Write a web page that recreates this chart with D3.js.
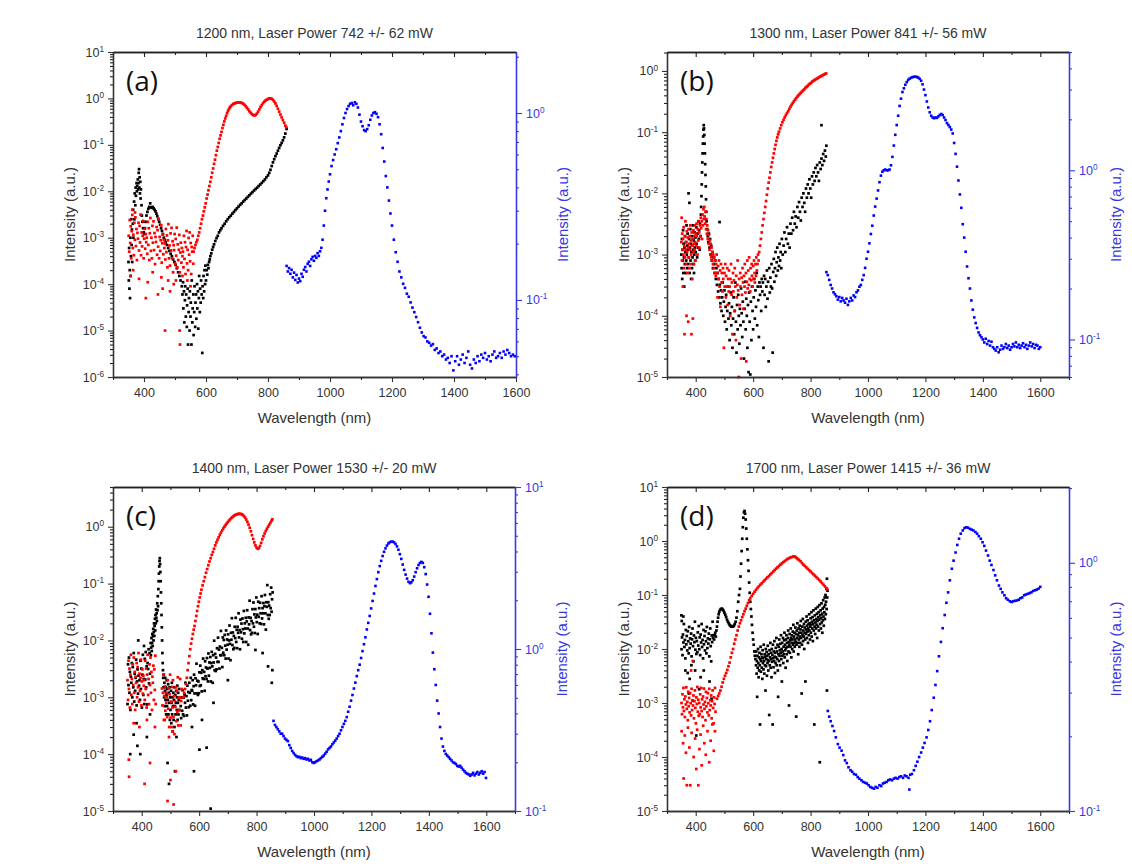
<!DOCTYPE html>
<html>
<head>
<meta charset="utf-8">
<title>Spectra</title>
<style>
  body { margin: 0; background: #fff; }
  svg { display: block; }
</style>
</head>
<body>
<svg width="1132" height="866"></svg>
<script src="https://cdnjs.cloudflare.com/ajax/libs/d3/7.8.5/d3.min.js"></script>
<script>
// ---- text / ticks ----
const titles = [
  "1200 nm, Laser Power 742 +/- 62 mW",
  "1300 nm, Laser Power 841 +/- 56 mW",
  "1400 nm, Laser Power 1530 +/- 20 mW",
  "1700 nm, Laser Power 1415 +/- 36 mW"
];
const letters = ["(a)", "(b)", "(c)", "(d)"];
const xTicks = [400, 600, 800, 1000, 1200, 1400, 1600];

// ---- panel (a) ----  [wavelength nm, intensity]
const aBlack = [
[350,3e-4],[351,1.2e-4],[352,6e-4],[353,8e-5],[354,2e-4],[355,5e-5],[356,1e-3],[357,1.5e-4],[358,4e-4],[359,2.5e-3],[360,7e-4],[361,1.5e-3],[362,3e-4],[364,2e-3],[365,4e-3],[366,1e-3],[368,6e-3],[369,2.5e-3],[370,9e-3],[372,5e-3],[373,1.2e-2],[374,8e-3],[376,1.5e-2],[377,1e-2],[378,1.3e-2],[380,1.8e-2],[381,1.1e-2],[382,1.5e-2],[383,2.5e-2],[384,3e-2],[385,1.2e-2],[386,2e-2],[387,9e-3],[388,1.6e-2],[389,7e-3],[390,1.1e-2],[392,5e-3],[393,3e-3],[395,2.2e-3],[397,1.6e-3],[399,1.3e-3],[401,1.2e-3],[403,1.6e-3],[405,2.2e-3],[408,3e-3],[411,3.6e-3],[414,4.2e-3],[417,4.6e-3],[420,5.5e-3],[422,4.5e-3],[425,4.4e-3],[428,4.6e-3],[431,4.3e-3],[434,4e-3],[437,3.7e-3],[440,3.3e-3],[443,2.9e-3],[446,2.5e-3],[449,2.2e-3],[452,1.9e-3],[455,1.6e-3],[458,1.4e-3],[461,1.2e-3],[464,1e-3],[467,9e-4],[470,8e-4],[474,7e-4],[478,6e-4],[482,5.2e-4],[486,4.5e-4],[490,4e-4],[494,3.4e-4],[498,3e-4],[502,2.6e-4],[506,2.2e-4],[510,1.8e-4],[514,1.5e-4],[518,1.2e-4],[522,9e-5],
[524,6e-5],[526,1.1e-4],[527,3e-5],[529,7e-5],[530,1.5e-5],[532,4.5e-5],[533,9e-5],[535,2e-5],[536,6e-5],[538,1.2e-5],[539,3.5e-5],[541,8e-5],[542,5e-6],[544,2.5e-5],[545,5e-5],[547,1e-5],[548,7e-5],[550,2e-5],[551,4e-5],[553,5e-6],[554,1.2e-4],[556,1.5e-5],[557,3e-5],[559,6e-5],[560,8e-6],[562,2.5e-5],[563,9e-5],[565,1.2e-5],[566,4e-5],[568,6e-5],[569,1.8e-5],[571,1e-4],[572,3e-5],[574,7e-5],[575,1.1e-5],[577,5e-5],[578,1.5e-4],[580,2.5e-5],[581,8e-5],[583,4e-5],[584,1.2e-4],[586,6e-5],[588,3.3e-6],[589,9e-5],[591,5e-5],[592,1.5e-4],[594,7e-5],[595,2e-4],[597,1e-4],[598,2.5e-4],
[600,1.2e-4],[602,2e-4],[604,1.6e-4],[606,2.6e-4],[608,2.2e-4],[610,3e-4],[612,3.4e-4],[614,4e-4],[617,4.6e-4],[620,5.5e-4],[623,6.3e-4],[626,7.2e-4],[630,8.5e-4],[634,9.8e-4],[638,1.1e-3],[642,1.3e-3],[646,1.45e-3],[650,1.6e-3],[655,1.8e-3],[660,2e-3],[665,2.25e-3],[670,2.5e-3],[675,2.75e-3],[680,3e-3],[685,3.3e-3],[690,3.6e-3],[695,3.95e-3],[700,4.3e-3],[705,4.7e-3],[710,5.1e-3],[715,5.5e-3],[720,6e-3],[725,6.5e-3],[730,7e-3],[735,7.6e-3],[740,8.2e-3],[745,8.9e-3],[750,9.6e-3],[755,1.04e-2],[760,1.12e-2],[765,1.2e-2],[770,1.3e-2],[775,1.4e-2],[780,1.52e-2],[785,1.65e-2],[790,1.8e-2],[795,2e-2],[800,2.2e-2],[804,2.5e-2],[808,2.9e-2],[812,3.5e-2],[816,4.2e-2],[820,4.9e-2],[824,5.7e-2],[828,6.5e-2],[832,7.5e-2],[836,8.6e-2],[840,9.8e-2],[844,1.1e-1],[848,1.25e-1],[852,1.45e-1],[856,1.75e-1],[860,2.2e-1]
];
const aRed = [
[350.6,1.1e-3],[352.3,5e-4],[353.9,2.4e-3],[355.6,7.7e-4],[357.2,1.76e-3],[358.8,3.6e-4],
[360.6,1.38e-3],[362.3,3.1e-3],[363.9,6e-4],[365.6,1.16e-3],[367.2,4.2e-4],[368.8,2.1e-3],
[370.6,9e-4],[372.3,2.75e-3],[373.9,6.6e-4],[375.6,1.54e-3],[377.2,3.3e-4],[378.8,1.27e-3],
[380.6,9.5e-4],[382.3,2.1e-3],[383.9,5.3e-4],[385.6,1.8e-3],[387.2,7.9e-4],[388.8,3.15e-3],
[390.6,4.2e-4],[392.3,1.3e-3],[393.9,6.5e-4],[395.6,1.1e-3],[397.2,2.3e-3],[398.8,3.6e-4],
[400.6,9.5e-4],[402.3,1.55e-3],[403.9,5.8e-4],[405.6,1.2e-3],[407.2,8e-4],[408.8,1e-3],
[410.6,4.5e-4],[412.3,2.2e-3],[413.9,7e-4],[415.6,1.6e-3],[417.2,3.3e-4],[418.8,1.25e-3],
[420.6,2.66e-3],[422.3,5.2e-4],[423.9,1e-3],[425.6,3.6e-4],[427.2,1.8e-3],[428.8,7.8e-4],
[430.6,2.25e-3],[432.3,5.4e-4],[433.9,1.26e-3],[435.6,2.7e-4],[437.2,1.04e-3],[438.8,8.1e-4],
[440.6,1.7e-3],[442.3,4.3e-4],[443.9,1.45e-3],[445.6,6.4e-4],[447.2,2.55e-3],[448.8,3.6e-4],
[450.6,1.04e-3],[452.3,5.2e-4],[453.9,8.8e-4],[455.6,1.84e-3],[457.2,2.9e-4],[458.8,7.6e-4],
[460.6,1.16e-3],[462.3,4.4e-4],[463.9,9e-4],[465.6,6e-4],[467.2,7.5e-4],[468.8,3.4e-4],
[470.6,1.54e-3],[472.3,4.9e-4],[473.9,1.12e-3],[475.6,2.3e-4],[477.2,8.8e-4],[478.8,1.96e-3],
[480.6,3.6e-4],[482.3,6.8e-4],[483.9,2.5e-4],[485.6,1.24e-3],[487.2,5.3e-4],[488.8,1.63e-3],
[490.6,3.6e-4],[492.3,8.4e-4],[493.9,1.8e-4],[495.6,6.9e-4],[497.2,5.4e-4],[498.8,1.2e-3],
[500.6,2.75e-4],[502.3,9.4e-4],[503.9,4.1e-4],[505.6,1.65e-3],[507.2,2.3e-4],[508.8,7.2e-4],
[510.6,3.3e-4],[512.3,5.5e-4],[513.9,1.15e-3],[515.6,1.8e-4],[517.2,4.8e-4],[518.8,7.8e-4],
[520.6,2.9e-4],[522.3,6e-4],[523.9,4e-4],[525.6,5e-4],[527.2,2.3e-4],[528.8,1.1e-3],
[530.6,3.5e-4],[532.3,8e-4],[533.9,1.65e-4],[535.6,6.3e-4],[537.2,1.4e-3],[538.8,2.8e-4],
[540.6,5.5e-4],[542.3,2e-4],[543.9,9.9e-4],[545.6,4.3e-4],[547.2,1.3e-3],[548.8,3.1e-4],
[550.6,7.7e-4],[552.3,1.65e-4],[553.9,6.3e-4],[555.6,5e-4],[557.2,1.1e-3],[558.8,2.75e-4],
[357,1.5e-4],[362,4e-3],[365,2e-4],[371,3.5e-3],[384,1.3e-4],[406,5e-5],[412,1.1e-4],[428,1.8e-4],[445,6e-5],[456,1.4e-4],[460,8e-5],[468,1e-5],[478,1.2e-4],[484,7e-5],[496,1e-4],[503,1.2e-4],[515,1e-5],[516,5e-6],[524,1.5e-4],[540,1.2e-4],[550,9e-5],
[560,5e-4],[563,6e-4],[566,7e-4],[569,8e-4],[572,9e-4],[575,1.1e-3],[578,1.3e-3],[581,1.6e-3],[584,2e-3],[587,2.5e-3],[590,3e-3],[593,3.7e-3],[596,4.5e-3],[599,5.5e-3],[602,7e-3],[605,8.5e-3],[608,1.05e-2],[611,1.3e-2],[614,1.6e-2],[617,2e-2],[620,2.5e-2],[623,3.1e-2],[626,3.9e-2],[629,4.8e-2],[632,6e-2],[635,7.5e-2],[638,9e-2],[641,1.1e-1],[644,1.35e-1],[647,1.6e-1],[650,1.9e-1],[653,2.3e-1],[656,2.7e-1],[659,3.2e-1],[662,3.7e-1],[665,4.2e-1],[668,4.8e-1],[671,5.4e-1],[674,5.9e-1],[677,6.4e-1],[680,6.8e-1],[684,7.2e-1],[688,7.6e-1],[692,7.8e-1],[696,8e-1],[700,8.1e-1],[704,8.2e-1],[708,8.2e-1],[712,8.1e-1],[716,8e-1],[720,7.7e-1],[724,7.3e-1],[728,6.8e-1],[732,6.3e-1],[736,5.8e-1],[740,5.3e-1],[744,4.9e-1],[748,4.6e-1],[752,4.4e-1],[756,4.3e-1],[760,4.4e-1],[764,4.7e-1],[768,5.2e-1],[772,5.8e-1],[776,6.5e-1],[780,7.2e-1],[784,7.9e-1],[788,8.5e-1],[792,9e-1],[796,9.4e-1],[800,9.7e-1],[804,1],[808,1],[812,9.8e-1],[816,9.3e-1],[820,8.6e-1],[824,7.8e-1],[828,6.9e-1],[832,6e-1],[836,5.2e-1],[840,4.5e-1],[844,3.9e-1],[848,3.4e-1],[852,3e-1],[856,2.6e-1],[859,2.4e-1]
];
const aBlue = [
[860,0.152],[864,0.142],[868,0.148],[872,0.138],[876,0.145],[880,0.132],[884,0.14],[888,0.128],[892,0.136],[896,0.124],[900,0.13],[904,0.126],[908,0.138],[912,0.133],[916,0.145],[920,0.15],[924,0.142],[928,0.156],[932,0.16],[936,0.152],[940,0.165],[944,0.17],[948,0.162],[952,0.172],[956,0.168],[960,0.178],[964,0.172],[968,0.182],[972,0.19],[976,0.21],[980,0.25],[984,0.3],[988,0.35],[992,0.39],[996,0.43],[1000,0.47],[1005,0.52],[1010,0.56],[1015,0.6],[1020,0.64],[1025,0.69],[1030,0.74],[1035,0.8],[1040,0.87],[1045,0.94],[1050,1.0],[1055,1.05],[1060,1.09],[1065,1.12],[1070,1.13],[1075,1.1],[1080,1.14],[1085,1.12],[1090,1.07],[1095,0.98],[1100,0.9],[1105,0.85],[1110,0.81],[1115,0.8],[1120,0.82],[1125,0.86],[1130,0.92],[1135,0.97],[1140,1.0],[1145,1.01],[1150,0.99],[1155,0.95],[1160,0.87],[1165,0.77],[1170,0.65],[1175,0.55],[1180,0.46],[1185,0.4],[1190,0.34],[1195,0.29],[1200,0.25],[1206,0.21],[1212,0.18],[1218,0.16],[1224,0.142],[1230,0.132],[1236,0.122],[1242,0.116],[1248,0.108],[1254,0.104],[1260,0.097],[1266,0.091],[1272,0.086],[1278,0.081],[1284,0.076],[1290,0.071],[1296,0.067],[1302,0.064],[1308,0.063],[1314,0.06],[1320,0.059],[1326,0.057],[1332,0.058],[1338,0.054],[1344,0.055],[1350,0.052],[1356,0.053],[1362,0.05],[1368,0.051],[1374,0.048],[1380,0.049],[1386,0.046],[1392,0.05],[1398,0.042],[1404,0.047],[1410,0.05],[1416,0.045],[1422,0.048],[1428,0.051],[1434,0.046],[1440,0.049],[1446,0.053],[1452,0.045],[1458,0.043],[1464,0.048],[1470,0.046],[1476,0.05],[1482,0.047],[1488,0.051],[1494,0.049],[1500,0.052],[1506,0.048],[1512,0.05],[1518,0.047],[1524,0.051],[1530,0.053],[1536,0.049],[1542,0.05],[1548,0.052],[1554,0.049],[1560,0.053],[1566,0.051],[1572,0.054],[1578,0.052],[1584,0.05],[1590,0.051],[1596,0.05]
];

// ---- panel (b) ----
const bBlack = [
[350,1e-3],[351,6e-4],[352,1.8e-3],[353,4e-4],[354,1.2e-3],[355,8e-4],[356,2.5e-3],[357,5e-4],[358,1.5e-3],[359,9e-4],[360,3e-4],[361,1.3e-3],[362,7e-4],[363,2e-3],[364,1.1e-3],[365,5e-4],[366,1.6e-3],[367,8e-4],[368,3e-3],[369,1e-3],[370,6e-4],[371,1.4e-3],[372,2.2e-3],[373,7e-4],[374,1.2e-3],[375,1e-2],[376,9e-4],[377,1.8e-3],[378,7e-3],[379,5e-4],[380,1.3e-3],[381,2.6e-3],[382,8e-4],[383,1.5e-3],[384,4e-4],[385,1.1e-3],[386,2e-3],[387,6e-4],[388,1.4e-3],[389,9e-4],[390,3e-3],[391,1.2e-3],[392,7e-4],[393,1.7e-3],[394,5e-4],[395,1e-3],[396,2.3e-3],[397,1.3e-3],[398,8e-4],[399,1.9e-3],[400,1.1e-3],[402,2.8e-3],[403,1.5e-3],[405,9e-4],[406,2.2e-3],[408,1.3e-3],[409,3.5e-3],[411,1.8e-3],[412,2.5e-3],[414,1.2e-3],[415,3.2e-3],[417,2e-3],[418,4.5e-3],[419,6e-3],[420,9e-3],[421,1.4e-2],[422,2.2e-2],[423,3.2e-2],[424,4.5e-2],[425,6.5e-2],[426,8.5e-2],[427,1.1e-1],[428,1.3e-1],[429,1.15e-1],[430,9e-2],[431,6.5e-2],[432,4.5e-2],[433,3e-2],[434,2e-2],[435,1.3e-2],[436,8e-3],[437,5e-3],[438,3.5e-3],[440,2.6e-3],[442,2e-3],[444,1.6e-3],[446,2.2e-3],[448,1.3e-3],[450,1.8e-3],[452,1e-3],[454,1.4e-3],[456,8e-4],[458,1.1e-3],[460,6e-4],[462,9e-4],[464,7e-4],[466,5e-4],[468,8e-4],[470,4e-4],[472,6e-4],[474,3.2e-4],[476,5e-4],[478,2.5e-4],[480,4e-4],[482,2e-4],[483,3.4e-3],[484,3.2e-4],[486,1.6e-4],[488,2.6e-4],[490,1.2e-4],[492,2e-4],[494,3.5e-4],[496,1e-4],[498,1.7e-4],[500,2.6e-4],[502,8e-5],[504,1.4e-4],[506,2.2e-4],[508,6e-5],[510,1.2e-4],[512,3e-4],[514,9e-5],[516,1.6e-4],[518,4e-5],[520,1.1e-4],[522,2.4e-4],[524,7e-5],[526,1.4e-4],[528,3e-5],[530,9e-5],[532,2e-4],[534,5e-5],[536,1.2e-4],[538,3.5e-4],[540,8e-5],[542,2.5e-5],[544,1.5e-4],[546,6e-5],[548,2.2e-4],[550,1e-4],[552,3.5e-5],[554,1.3e-4],[556,7e-5],[558,2.8e-4],[560,1.1e-4],[562,4.5e-5],[564,1.7e-4],[566,8e-5],[568,2e-5],[570,1.3e-4],[572,3.6e-4],[574,6e-5],[576,1.9e-4],[578,1e-4],[580,3e-5],[582,1.5e-4],[584,1.2e-5],[586,2.4e-4],[588,8e-5],[590,1.1e-5],[592,1.7e-4],[594,4e-5],[596,3e-4],[598,1.2e-4],[600,6e-5],[602,2e-4],[604,4e-4],[606,9e-5],[608,2.6e-4],[610,1.4e-4],[612,5e-4],[614,7e-5],[616,3e-4],[618,1.8e-4],[620,4.5e-5],[622,3.5e-4],[624,2.2e-4],[626,3e-4],[628,1.2e-4],[630,4e-4],[632,2.5e-4],[634,3.5e-4],[636,3e-5],[638,4.5e-4],
[640,2.2e-4],[642,4e-4],[644,1.4e-4],[646,3e-4],[648,5.5e-4],[650,1.9e-4],[652,3.6e-4],[654,1.8e-5],[656,6e-4],[658,2.4e-4],[660,4.2e-4],[662,3e-4],[664,7e-4],[666,2.8e-4],[668,2.5e-5],[670,5.2e-4],[672,8.5e-4],[674,3.6e-4],[676,6e-4],[678,1.1e-3],[680,4.5e-4],[682,7.5e-4],[684,1.3e-3],[686,5.5e-4],[688,9e-4],[690,6.5e-4],[692,1.5e-3],[694,8e-4],[696,1.1e-3],[698,6e-4],[700,1.8e-3],[703,1e-3],[706,1.4e-3],[709,2.3e-3],[712,1.1e-3],[715,1.8e-3],[718,2.8e-3],[721,1.5e-3],[724,2.2e-3],[727,1.3e-3],[730,3.2e-3],[733,2.2e-3],[736,4e-3],[739,2.5e-3],[742,5e-3],[745,3.2e-3],[748,4.2e-3],[751,2.8e-3],[754,6e-3],[757,4e-3],[760,7.2e-3],[763,5e-3],[766,3.6e-3],[769,8.5e-3],[772,6e-3],[775,1e-2],[778,7e-3],[781,5e-3],[784,1.2e-2],[787,8.5e-3],[790,1.4e-2],[793,1e-2],[796,1.7e-2],[799,1.2e-2],[802,8.5e-3],[805,1.9e-2],[808,1.4e-2],[811,2.2e-2],[814,1.6e-2],[817,2.6e-2],[820,1.9e-2],[823,2.9e-2],[826,2.2e-2],[829,1.6e-2],[832,3.2e-2],[835,2.5e-2],[838,3.7e-2],[838,1.3e-1],[841,2.9e-2],[844,4.4e-2],[847,3.4e-2],[850,5e-2],[853,4e-2],[855,6e-2]
];
const bRed = [
[350,1.6e-3],[351,4e-3],[352,8e-4],[353,2.2e-3],[354,1.2e-3],[355,3e-4],[356,1.8e-3],[357,1e-3],[358,2.8e-3],[359,6e-4],[360,1.4e-3],[361,5e-5],[362,2e-3],[363,9e-4],[364,3.5e-3],[365,1.2e-3],[366,7e-4],[367,1.6e-3],[368,1e-4],[369,2.4e-3],[370,1.1e-3],[371,5e-4],[372,1.9e-3],[373,1.3e-3],[374,8e-5],[375,2.6e-3],[376,9e-4],[377,1.5e-3],[378,6e-4],[379,2e-3],[380,1.2e-3],[381,3e-3],[382,7e-4],[383,1.7e-3],[384,1e-3],[385,5e-5],[386,2.3e-3],[387,1.4e-3],[388,4e-4],[389,1.8e-3],[390,9e-5],[391,1.1e-3],[392,2.5e-3],[393,1.5e-3],[394,7e-4],[395,2e-3],[396,1.2e-3],[397,3e-3],[398,1.6e-3],[399,8e-4],[400,2.2e-3],[402,1.4e-3],[403,3.2e-3],[404,2e-3],[406,1e-3],[407,2.6e-3],[409,1.7e-3],[410,3.5e-3],[412,2.3e-3],[413,1.3e-3],[415,3e-3],[416,2e-3],[418,4e-3],[419,2.7e-3],[421,3.5e-3],[422,1.8e-3],[424,4.5e-3],[425,3e-3],[427,5.5e-3],[428,3.8e-3],[430,6e-3],[431,4.2e-3],[433,3.2e-3],[434,5e-3],[436,2.6e-3],[437,3.8e-3],[439,2.2e-3],[440,3e-3],[442,1.8e-3],[443,2.5e-3],[445,1.5e-3],[446,2.1e-3],[448,1.2e-3],[449,1.7e-3],[451,1e-3],[452,1.5e-3],[454,9e-4],[455,1.3e-3],[457,8e-4],[458,1.1e-3],[460,7e-4],[461,1e-3],[463,6e-4],[465,9e-4],[466,5e-4],[468,8e-4],[470,4.5e-4],[471,7e-4],[473,1e-3],[475,5e-4],[476,2e-4],[478,6.5e-4],[480,4e-4],[481,8e-4],[483,3e-4],[485,5.5e-4],[486,1.4e-4],[488,7e-4],[490,3.5e-4],[491,5e-4],[493,2.5e-4],[495,6e-4],[496,4e-4],[498,3e-5],[500,5e-4],[501,3e-4],[503,7e-4],[505,2e-4],[506,4.5e-4],[508,3e-4],[510,6e-4],[511,1.5e-4],[513,4e-4],[515,2.5e-4],[516,5.5e-4],[518,3e-4],[520,1e-4],[521,4e-4],[523,7e-4],[525,2.2e-4],[526,3.5e-4],[528,5e-5],[530,5e-4],[531,2.5e-4],[533,3.8e-4],[535,1.2e-4],[536,6e-4],[538,3e-4],[540,4e-5],[541,4.5e-4],[543,2e-4],[545,3.2e-4],[546,8e-4],[548,2.6e-4],[550,1e-5],[551,4e-4],[553,1.5e-4],[555,5e-4],[556,3e-4],[558,2e-5],[560,4.2e-4],[561,2.2e-4],[563,6e-4],[565,3.5e-4],[566,1.3e-4],[568,4.5e-4],[570,3e-4],[571,7e-4],[573,2.4e-4],[575,5e-4],[576,1.8e-5],[578,3.6e-4],[580,8e-4],[581,2.8e-4],[583,5.5e-4],[585,3.2e-4],[586,9e-4],[588,4e-4],[590,2.5e-4],[591,6e-4],[593,3.8e-4],[595,7e-4],[596,4.5e-4],[598,3e-4],[600,6.5e-4],[601,4e-4],[603,8e-4],[605,5e-4],[606,3.5e-4],[608,7e-4],[610,4.5e-4],[611,9e-4],[613,5.5e-4],[615,7e-4],[617,1e-3],[619,8e-4],
[621,1.1e-3],[624,1.4e-3],[627,1.8e-3],[630,2.3e-3],[633,3e-3],[636,3.8e-3],[639,4.8e-3],[642,6e-3],[645,7.5e-3],[648,9.5e-3],[651,1.2e-2],[654,1.5e-2],[657,1.8e-2],[660,2.2e-2],[663,2.7e-2],[666,3.2e-2],[669,3.8e-2],[672,4.5e-2],[675,5.3e-2],[678,6.2e-2],[681,7.2e-2],[684,8.2e-2],[687,9.2e-2],[690,1.02e-1],[694,1.15e-1],[698,1.3e-1],[702,1.45e-1],[706,1.6e-1],[710,1.75e-1],[714,1.9e-1],[718,2.05e-1],[722,2.2e-1],[726,2.4e-1],[730,2.6e-1],[734,2.8e-1],[738,3e-1],[742,3.2e-1],[746,3.4e-1],[750,3.6e-1],[754,3.8e-1],[758,4e-1],[762,4.2e-1],[766,4.4e-1],[770,4.6e-1],[774,4.8e-1],[778,5e-1],[782,5.3e-1],[786,5.5e-1],[790,5.7e-1],[794,6e-1],[798,6.2e-1],[802,6.4e-1],[806,6.7e-1],[810,6.9e-1],[814,7.1e-1],[818,7.3e-1],[822,7.5e-1],[826,7.7e-1],[830,7.9e-1],[834,8.1e-1],[838,8.3e-1],[842,8.5e-1],[846,8.7e-1],[850,8.9e-1],[854,9.1e-1]
];
const bBlue = [
[855,0.25],[860,0.24],[865,0.225],[870,0.21],[875,0.2],[880,0.19],[885,0.185],[890,0.18],[895,0.172],[900,0.178],[905,0.168],[910,0.176],[915,0.17],[920,0.165],[925,0.174],[930,0.16],[935,0.168],[940,0.176],[945,0.17],[950,0.182],[955,0.178],[960,0.19],[965,0.195],[970,0.205],[975,0.21],[980,0.225],[985,0.24],[990,0.265],[995,0.3],[1000,0.33],[1005,0.37],[1010,0.42],[1015,0.47],[1020,0.54],[1025,0.61],[1030,0.68],[1035,0.76],[1040,0.85],[1045,0.93],[1050,0.98],[1055,1.0],[1060,1.01],[1065,1.0],[1070,1.0],[1075,1.01],[1080,1.07],[1085,1.2],[1090,1.4],[1095,1.62],[1100,1.85],[1105,2.1],[1110,2.4],[1115,2.65],[1120,2.9],[1125,3.05],[1130,3.2],[1135,3.32],[1140,3.42],[1145,3.48],[1150,3.52],[1155,3.55],[1160,3.57],[1165,3.57],[1170,3.56],[1175,3.53],[1180,3.47],[1185,3.38],[1190,3.22],[1195,3.0],[1200,2.78],[1205,2.55],[1210,2.35],[1215,2.2],[1220,2.1],[1225,2.05],[1230,2.03],[1235,2.05],[1240,2.04],[1245,2.08],[1250,2.12],[1255,2.15],[1260,2.12],[1265,2.05],[1270,1.98],[1275,1.9],[1280,1.85],[1285,1.8],[1290,1.74],[1295,1.65],[1300,1.45],[1305,1.25],[1310,1.05],[1315,0.87],[1320,0.72],[1325,0.6],[1330,0.48],[1335,0.4],[1340,0.33],[1345,0.27],[1350,0.23],[1355,0.2],[1360,0.17],[1365,0.15],[1370,0.135],[1375,0.125],[1380,0.117],[1385,0.11],[1390,0.106],[1395,0.103],[1400,0.1],[1405,0.096],[1410,0.101],[1415,0.094],[1420,0.098],[1425,0.092],[1430,0.097],[1435,0.09],[1440,0.088],[1445,0.086],[1450,0.09],[1455,0.084],[1460,0.087],[1465,0.092],[1470,0.088],[1475,0.09],[1480,0.094],[1485,0.089],[1490,0.092],[1495,0.087],[1500,0.09],[1505,0.094],[1510,0.091],[1515,0.096],[1520,0.09],[1525,0.093],[1530,0.089],[1535,0.092],[1540,0.095],[1545,0.09],[1550,0.093],[1555,0.088],[1560,0.092],[1565,0.096],[1570,0.091],[1575,0.094],[1580,0.089],[1585,0.093],[1590,0.092],[1595,0.088],[1600,0.09]
];

// ---- panel (c) ----
const cBlack = [
[350.6,7.6e-4],[352.3,3.8e-3],[353.9,1.64e-3],[355.6,5e-3],[357.2,1.2e-3],[358.8,2.8e-3],
[360.6,6e-4],[362.3,2.3e-3],[363.9,1.8e-3],[365.6,4e-3],[367.2,1e-3],[368.8,3.4e-3],
[370.6,1.5e-3],[372.3,6e-3],[373.9,8.4e-4],[375.6,2.6e-3],[377.2,1.3e-3],[378.8,2.2e-3],
[380.6,4.6e-3],[382.3,7.2e-4],[383.9,1.9e-3],[385.6,3.1e-3],[387.2,1.16e-3],[388.8,2.4e-3],
[390.6,1.6e-3],[392.3,2e-3],[393.9,9e-4],[395.6,4.4e-3],[397.2,1.4e-3],[398.8,3.2e-3],
[400.6,6.6e-4],[402.3,2.5e-3],[403.9,5.6e-3],[405.6,1.1e-3],[407.2,2.1e-3],[408.8,7.6e-4],
[410.6,4.75e-3],[412.3,2.05e-3],[413.9,6.25e-3],[415.6,1.5e-3],[417.2,3.5e-3],[418.8,7.5e-4],
[420.6,4e-3],[422.3,3.15e-3],[423.9,7e-3],[425.6,1.75e-3],[427.2,6e-3],[428.8,2.6e-3],
[360,1e-4],[372,2.2e-4],[382,3.5e-4],[385,1.4e-4],[388,1e-2],[395,1e-4],[408,8e-3],[418,2e-4],[429,5e-4],
[431,9e-3],[432,5.5e-3],[433,7.5e-3],[434,1.1e-2],[435,6.5e-3],[436,9e-3],[437,1.3e-2],[438,8e-3],[439,1.2e-2],[440,1.6e-2],[441,1e-2],[442,1.4e-2],[443,2e-2],[444,1.2e-2],[445,1.8e-2],[446,2.4e-2],[447,1.5e-2],[448,2.8e-2],[449,2e-2],[450,3.5e-2],[451,2.5e-2],[452,3e-2],[453,2.2e-2],[454,4.5e-2],[455,3.4e-2],[456,6e-2],[457,4e-2],[458,8e-2],[459,1.1e-1],[460,1.5e-1],[461,2e-1],[462,2.5e-1],[463,2.8e-1],[464,2.2e-1],[465,1.6e-1],[466,1.1e-1],[467,7e-2],[468,4.5e-2],[469,2.8e-2],[470,1.7e-2],[471,1e-2],[472,6e-3],[473,4e-3],[474,3e-3],[475,2.2e-3],[476,1.5e-3],[477,2.5e-3],[478,1e-3],[479,1.8e-3],[480,7e-4],[481,1.3e-3],[482,2.2e-3],[483,9e-4],[484,1.5e-3],[485,5e-4],[486,1.1e-3],[487,2e-3],[488,7e-4],[489,1.4e-3],[490,7e-5],[491,9e-4],[492,1.7e-3],[493,5e-4],[494,1.2e-3],[495,3e-5],[496,8e-4],[497,1.5e-3],[498,4e-4],[499,1e-3],[500,6e-4],[502,1.3e-3],[503,3.5e-4],[504,8e-4],[505,1.8e-3],[506,5e-4],[507,1e-3],[508,2.5e-4],[509,7e-4],[510,1.2e-3],[511,4e-4],[512,9e-4],[513,1.5e-3],[514,3e-4],[515,7e-4],[516,5e-5],[517,1.1e-3],[518,5e-4],[519,8e-4],[520,1.3e-3],[521,2e-4],[522,6e-4],[523,1e-3],[524,1.6e-3],[525,4e-4],[526,8e-4],[527,1.2e-3],[528,5e-4],[529,9e-4],[530,1.4e-3],[531,6e-4],[532,1e-3],
[535.8,7e-4],[537.4,4.3e-4],[539.1,1e-3],[540.8,5.8e-4],[542.3,1.33e-3],[543.9,5e-4],
[545.8,9.9e-4],[547.4,4.7e-4],[549.1,1.12e-3],[550.8,8e-4],[552.3,1.8e-3],[553.9,6.6e-4],
[555.8,1.05e-3],[557.4,4.8e-4],[559.1,1.6e-3],[560.8,8.7e-4],[562.3,1.24e-3],[563.9,6.7e-4],
[565.8,1.8e-3],[567.4,1.2e-3],[569.1,7.1e-4],[570.8,2.2e-3],[572.3,8.9e-4],[573.9,1.34e-3],
[575.8,1.3e-3],[577.4,2e-3],[579.1,7.5e-4],[580.8,1.57e-3],[582.3,2.5e-3],[583.9,1.17e-3],
[585.8,7.1e-4],[587.4,2.16e-3],[589.1,1.63e-3],[590.8,3.9e-3],[592.3,1.17e-3],[593.9,1.96e-3],
[595.8,1.1e-3],[597.4,1.9e-3],[599.1,1.18e-3],[600.8,2.75e-3],[602.3,1.58e-3],[603.9,3.6e-3],
[605.8,1.63e-3],[607.4,2.7e-3],[609.1,1.27e-3],[610.8,3e-3],[612.3,2.16e-3],[613.9,4.8e-3],
[615.8,2.1e-3],[617.4,2.8e-3],[619.1,1.3e-3],[620.8,4.3e-3],[622.3,2.35e-3],[623.9,3.35e-3],
[625.8,2.1e-3],[627.4,4.9e-3],[629.1,3.2e-3],[630.8,1.9e-3],[632.3,5.9e-3],[633.9,2.4e-3],
[635.8,4.1e-3],[637.4,3.3e-3],[639.1,5.1e-3],[640.8,1.9e-3],[642.3,4e-3],[643.9,6.3e-3],
[645.8,3.5e-3],[647.4,1.8e-3],[649.1,5.5e-3],[650.8,4.1e-3],[652.3,9.9e-3],[653.9,3e-3],
[655.8,5.8e-3],[657.4,2.9e-3],[659.1,5e-3],[660.8,3.1e-3],[662.3,7.3e-3],[663.9,4.2e-3],
[665.8,1.12e-2],[667.4,4.2e-3],[669.1,6.9e-3],[670.8,3.2e-3],[672.3,7.8e-3],[673.9,5.5e-3],
[675.8,1.47e-2],[677.4,5.5e-3],[679.1,7.4e-3],[680.8,3.4e-3],[682.3,1.13e-2],[683.9,6.1e-3],
[685.8,1.02e-2],[687.4,5.5e-3],[689.1,1.25e-2],[690.8,8.1e-3],[692.3,4.8e-3],[693.9,1.5e-2],
[695.8,6.9e-3],[697.4,1.04e-2],[699.1,8.4e-3],[700.8,1.28e-2],[702.3,4.8e-3],[703.9,1e-2],
[705.8,1.83e-2],[707.4,8.7e-3],[709.1,4.5e-3],[710.8,1.36e-2],[712.3,1.03e-2],[713.9,2.46e-2],
[715.8,8.3e-3],[717.4,1.38e-2],[719.1,7e-3],[720.8,1.2e-2],[722.3,7.4e-3],[723.9,1.74e-2],
[725.8,1.1e-2],[727.4,2.5e-2],[729.1,9.4e-3],[730.8,1.54e-2],[732.3,7.3e-3],[733.9,1.74e-2],
[735.8,1.36e-2],[737.4,3e-2],[739.1,1.13e-2],[740.8,1.52e-2],[742.3,7e-3],[743.9,2.33e-2],
[745.8,1.39e-2],[747.4,1.98e-2],[749.1,1.07e-2],[750.8,2.43e-2],[752.3,1.58e-2],[753.9,9.4e-3],
[755.8,3.3e-2],[757.4,1.33e-2],[759.1,2e-2],[760.8,1.62e-2],[762.3,2.5e-2],[763.9,9.4e-3],
[765.8,2.16e-2],[767.4,3.4e-2],[769.1,1.62e-2],[770.8,8.4e-3],[772.3,2.54e-2],[773.9,1.92e-2],
[775.8,5e-2],[777.4,1.52e-2],[779.1,2.5e-2],[780.8,1.28e-2],[782.3,2.2e-2],[783.9,1.36e-2],
[785.8,3.55e-2],[787.4,2e-2],[789.1,4.65e-2],[790.8,1.74e-2],[792.3,2.87e-2],[793.9,1.35e-2],
[795.8,3.56e-2],[797.4,2.54e-2],[799.1,5.7e-2],[800.8,2.1e-2],[802.3,2.84e-2],[803.9,1.3e-2],
[805.8,4.8e-2],[807.4,2.6e-2],[809.1,3.7e-2],[810.8,2e-2],[812.3,4.6e-2],[813.9,3e-2],
[815.8,1.95e-2],[817.4,6e-2],[819.1,2.44e-2],[820.8,3.7e-2],[822.3,3e-2],[823.9,4.55e-2],
[825.8,1.92e-2],[827.4,4e-2],[829.1,6.3e-2],[830.8,3e-2],[832.3,1.55e-2],[833.9,4.7e-2],
[835.8,3.9e-2],[837.4,9.4e-2],[839.1,2.8e-2],[840.8,4.7e-2],[842.3,2.4e-2],[843.9,4.1e-2],
[845.8,2.8e-2],[847.4,6.5e-2],[849.1,3.7e-2],[850.8,8.5e-2],[852.3,3.2e-2],[853.9,5.3e-2],
[575,3e-4],[582,5e-5],[601,1.2e-4],[610,4e-4],[626,1.3e-4],[640,1.1e-5],[650,8e-4],[700,2e-3],[796,6.8e-3],[821,6e-3],[840,3.5e-3],[853,1.8e-3],[855,3e-3],[856,7e-2]
];
const cRed = [
[350.6,2e-3],[352.3,9e-4],[353.9,4.4e-3],[355.6,1.4e-3],[357.2,3.2e-3],[358.8,6.6e-4],
[360.6,2.5e-3],[362.3,5.6e-3],[363.9,1.1e-3],[365.6,2.1e-3],[367.2,7.6e-4],[368.8,3.8e-3],
[370.6,1.64e-3],[372.3,5e-3],[373.9,1.2e-3],[375.6,2.8e-3],[377.2,6e-4],[378.8,2.3e-3],
[380.6,1.8e-3],[382.3,4e-3],[383.9,1e-3],[385.6,3.4e-3],[387.2,1.5e-3],[388.8,6e-3],
[390.6,8.4e-4],[392.3,2.6e-3],[393.9,1.3e-3],[395.6,2.2e-3],[397.2,4.6e-3],[398.8,7.2e-4],
[400.6,1.9e-3],[402.3,3.1e-3],[403.9,1.16e-3],[405.6,2.4e-3],[407.2,1.6e-3],[408.8,2e-3],
[410.6,9e-4],[412.3,4.4e-3],[413.9,1.4e-3],[415.6,3.2e-3],[417.2,6.6e-4],[418.8,2.5e-3],
[420.6,5.6e-3],[422.3,1.1e-3],[423.9,2.1e-3],[425.6,7.6e-4],[427.2,3.8e-3],[428.8,1.64e-3],
[430.6,5e-3],[432.3,1.2e-3],[433.9,2.8e-3],[435.6,6e-4],[437.2,2.3e-3],[438.8,1.8e-3],
[440.6,3.6e-3],[442.3,9e-4],[443.9,3.1e-3],[445.6,1.35e-3],[447.2,5.4e-3],[448.8,7.6e-4],
[470.6,1.43e-3],[472.3,7.2e-4],[473.9,1.2e-3],[475.6,2.5e-3],[477.2,4e-4],[478.8,1.05e-3],
[480.6,1.55e-3],[482.3,5.8e-4],[483.9,1.2e-3],[485.6,8e-4],[487.2,1e-3],[488.8,4.5e-4],
[490.6,2e-3],[492.3,6.3e-4],[493.9,1.44e-3],[495.6,3e-4],[497.2,1.13e-3],[498.8,2.5e-3],
[500.6,4.4e-4],[502.3,8.4e-4],[503.9,3e-4],[505.6,1.52e-3],[507.2,6.6e-4],[508.8,2e-3],
[510.6,4.5e-4],[512.3,1.05e-3],[513.9,2.25e-4],[515.6,8.6e-4],[517.2,6.8e-4],[518.8,1.5e-3],
[520.6,3.8e-4],[522.3,1.28e-3],[523.9,5.6e-4],[525.6,2.25e-3],[527.2,3.2e-4],[528.8,9.8e-4],
[530.6,5.9e-4],[532.3,1e-3],[533.9,2.1e-3],[535.6,3.2e-4],[537.2,8.6e-4],[538.8,1.4e-3],
[355,8e-5],[356,4e-5],[372,3.5e-4],[392,3e-4],[410,3e-5],[418,4e-4],[429,7e-5],[446,3e-4],[480,4e-4],[490,1.5e-5],[495,2e-4],[500,3.5e-5],[508,2.5e-4],[511,1.3e-5],[519,5e-5],
[545,1e-3],[548,1.2e-3],[551,1.4e-3],[554,1.7e-3],[557,2.2e-3],[560,3e-3],[563,4e-3],[566,5.3e-3],[569,7e-3],[572,8.8e-3],[575,1.07e-2],[578,1.3e-2],[581,1.55e-2],[584,1.8e-2],[587,2.2e-2],[590,2.7e-2],[593,3.3e-2],[596,4e-2],[599,4.8e-2],[602,5.7e-2],[605,6.7e-2],[608,7.8e-2],[612,9.3e-2],[616,1.1e-1],[620,1.3e-1],[624,1.55e-1],[628,1.8e-1],[632,2.1e-1],[636,2.45e-1],[640,2.8e-1],[644,3.2e-1],[648,3.6e-1],[652,4.1e-1],[656,4.7e-1],[660,5.3e-1],[664,5.9e-1],[668,6.5e-1],[672,7.2e-1],[676,7.9e-1],[680,8.6e-1],[684,9.3e-1],[688,1.0],[692,1.07],[696,1.14],[700,1.21],[704,1.28],[708,1.35],[712,1.42],[716,1.48],[720,1.54],[724,1.59],[728,1.63],[732,1.66],[736,1.68],[740,1.69],[744,1.68],[748,1.66],[752,1.61],[756,1.54],[760,1.45],[764,1.34],[768,1.22],[772,1.09],[776,0.96],[780,0.83],[784,0.71],[788,0.61],[792,0.53],[796,0.47],[800,0.43],[804,0.41],[808,0.42],[812,0.46],[816,0.52],[820,0.6],[824,0.68],[828,0.76],[832,0.84],[836,0.92],[840,1.0],[844,1.08],[848,1.17],[852,1.27],[855,1.35]
];
const cBlue = [
[859,0.36],[864,0.34],[869,0.33],[874,0.32],[879,0.31],[884,0.3],[889,0.3],[894,0.29],[899,0.28],[904,0.275],[909,0.27],[914,0.255],[919,0.245],[924,0.235],[929,0.228],[934,0.222],[939,0.218],[944,0.215],[949,0.216],[954,0.212],[959,0.214],[964,0.21],[969,0.212],[974,0.208],[979,0.21],[984,0.205],[989,0.207],[994,0.2],[999,0.198],[1004,0.2],[1009,0.203],[1014,0.205],[1019,0.208],[1024,0.212],[1029,0.216],[1034,0.22],[1039,0.226],[1044,0.232],[1049,0.24],[1054,0.245],[1059,0.25],[1064,0.258],[1069,0.265],[1074,0.272],[1079,0.28],[1084,0.29],[1089,0.3],[1094,0.315],[1099,0.33],[1104,0.345],[1109,0.36],[1114,0.38],[1119,0.41],[1124,0.44],[1129,0.48],[1134,0.52],[1139,0.57],[1144,0.62],[1149,0.68],[1154,0.74],[1159,0.8],[1164,0.88],[1169,0.97],[1174,1.07],[1179,1.18],[1184,1.32],[1189,1.45],[1194,1.6],[1199,1.78],[1204,1.98],[1209,2.2],[1214,2.45],[1219,2.7],[1224,2.98],[1229,3.25],[1234,3.5],[1239,3.75],[1244,3.98],[1249,4.18],[1254,4.35],[1259,4.48],[1264,4.56],[1269,4.6],[1274,4.6],[1279,4.55],[1284,4.45],[1289,4.3],[1294,4.1],[1299,3.85],[1304,3.6],[1309,3.32],[1314,3.08],[1319,2.88],[1324,2.72],[1329,2.6],[1334,2.55],[1339,2.58],[1344,2.66],[1349,2.8],[1354,2.98],[1359,3.15],[1364,3.3],[1369,3.4],[1374,3.45],[1379,3.4],[1384,3.2],[1389,2.9],[1394,2.5],[1399,2.1],[1404,1.65],[1409,1.25],[1414,0.95],[1419,0.75],[1424,0.6],[1429,0.48],[1434,0.4],[1439,0.33],[1444,0.28],[1449,0.25],[1454,0.235],[1459,0.225],[1464,0.22],[1469,0.215],[1474,0.21],[1479,0.205],[1484,0.2],[1489,0.198],[1494,0.195],[1499,0.19],[1504,0.188],[1509,0.19],[1514,0.185],[1519,0.18],[1524,0.176],[1529,0.172],[1534,0.17],[1539,0.168],[1544,0.165],[1549,0.168],[1554,0.172],[1559,0.166],[1564,0.17],[1569,0.174],[1574,0.168],[1579,0.172],[1584,0.176],[1589,0.17],[1594,0.174],[1599,0.16]
];

// ---- panel (d) ----
const dBlack = [
[350.6,9.9e-3],[352.3,1.64e-2],[353.9,7.7e-3],[355.6,1.85e-2],[357.2,1.32e-2],[358.8,2.9e-2],
[360.6,1.09e-2],[362.3,1.47e-2],[363.9,6.7e-3],[365.6,2.25e-2],[367.2,1.22e-2],[368.8,1.74e-2],
[370.6,9.4e-3],[372.3,2.13e-2],[373.9,1.39e-2],[375.6,8.3e-3],[377.2,2.56e-2],[378.8,1.04e-2],
[380.6,1.57e-2],[382.3,1.26e-2],[383.9,1.93e-2],[385.6,7.3e-3],[387.2,1.51e-2],[388.8,2.4e-2],
[390.6,1.13e-2],[392.3,5.9e-3],[393.9,1.78e-2],[395.6,1.34e-2],[397.2,3.2e-2],[398.8,9.7e-3],
[400.6,1.61e-2],[402.3,8.1e-3],[403.9,1.4e-2],[405.6,8.7e-3],[407.2,2.03e-2],[408.8,1.16e-2],
[410.6,2.66e-2],[412.3,9.9e-3],[413.9,1.64e-2],[415.6,7.7e-3],[417.2,1.85e-2],[418.8,1.32e-2],
[420.6,2.9e-2],[422.3,1.09e-2],[423.9,1.47e-2],[425.6,6.7e-3],[427.2,2.25e-2],[428.8,1.22e-2],
[430.6,1.74e-2],[432.3,9.4e-3],[433.9,2.13e-2],[435.6,1.39e-2],[437.2,8.3e-3],[438.8,2.56e-2],
[440.6,1.04e-2],[442.3,1.57e-2],[443.9,1.26e-2],[445.6,1.93e-2],[447.2,7.3e-3],[448.8,1.51e-2],
[450.6,2.4e-2],[452.3,1.13e-2],[453.9,5.9e-3],[455.6,1.78e-2],[457.2,1.34e-2],[458.8,3.2e-2],
[350.2,4.2e-2],[351.4,3.3e-2],[357,4e-2],[364,4e-3],[372,3.6e-3],[376,1.5e-3],[379,2.8e-3],[385,5e-3],[390,1.1e-3],[398,4e-3],[402,2.5e-4],[412,1.8e-3],[417,3e-3],[428,4e-3],[448,2.5e-3],[455,1.2e-3],
[460,1.6e-2],[462,1.8e-2],[464,1.5e-2],[466,1.8e-2],[468,2e-2],[470,1.7e-2],[472,2.2e-2],[474,2.6e-2],[476,3.2e-2],[478,3.8e-2],[480,4.4e-2],[482,4.9e-2],[485,5.3e-2],[488,5.5e-2],[491,5.6e-2],[494,5.4e-2],[497,5.1e-2],[500,4.7e-2],[503,4.3e-2],[506,3.9e-2],[509,3.5e-2],[512,3.2e-2],[515,3e-2],[518,2.8e-2],[521,2.7e-2],[524,2.6e-2],[527,2.6e-2],[530,2.6e-2],[533,2.7e-2],[536,2.9e-2],[539,3.2e-2],[542,3.8e-2],[545,5e-2],[548,7.5e-2],[551,1e-1],[554,1.3e-1],[556,2.2e-1],[558,3.8e-1],[560,6.5e-1],[562,1.1],[564,1.8],[566,2.7],[568,3.4],[570,3.6],[572,3.2],[574,2.5],[576,1.7],[578,1.1],[580,7e-1],[582,4.4e-1],[584,2.8e-1],[586,1.7e-1],[588,1.1e-1],[590,7.5e-2],[592,5.5e-2],[594,4e-2],[596,2.8e-2],[598,2e-2],[600,1.5e-2],[602,1.2e-2],[604,9e-3],[606,7.5e-3],[608,6.5e-3],
[610,5e-3],[611,9e-3],[612,3.5e-3],[613,6e-3],[614,1.3e-3],[615,7.5e-3],[616,4.5e-3],[617,1e-2],[618,5.5e-3],[619,3e-3],[620,7e-3],[621,4e-3],[622,8.5e-3],[623,5e-3],[624,4e-4],[625,6.5e-3],[626,1.1e-2],[627,3.8e-3],[628,6e-3],[629,8e-3],[630,4.5e-3],[631,7e-3],[632,2.8e-3],[633,9.5e-3],[634,5.5e-3],[635,6.8e-3],[636,4.2e-3],[637,1.2e-2],[638,6e-3],[639,3.5e-3],[640,8e-3],[641,5e-3],[642,7.2e-3],[643,1.7e-3],[644,1e-2],[645,4.8e-3],[646,6.5e-3],[647,8.8e-3],[648,3.2e-3],[649,7.5e-3],[650,5.5e-3],[651,1.15e-2],[652,6.2e-3],[653,4e-3],[654,8e-3],[655,6e-3],[656,6e-4],[657,9.5e-3],[658,5e-3],[659,7e-3],[660,1.3e-2],[661,4.5e-3],[662,8.5e-3],[663,6.5e-3],[664,3e-3],[665,1e-2],[666,5.8e-3],[667,7.8e-3],[668,4e-4],[669,1.2e-2],[670,6.8e-3],[671,4.6e-3],[672,9e-3],[673,6e-3],[674,1.4e-2],[675,7.2e-3],[676,3.6e-3],[677,8.5e-3],[678,5.5e-3],[679,1.05e-2],[680,7e-3],[681,1.6e-2],[682,5e-3],[683,9e-3],[684,6.5e-3],[685,1.2e-2],[686,4e-3],[687,1.3e-3],[688,8e-3],[689,1.1e-2],[690,6e-3],[691,1.5e-2],[692,7.5e-3],[693,9.5e-3],[694,5e-3],[695,1.25e-2],[696,8.5e-3],[697,1.8e-2],[698,6.5e-3],[699,1e-2],[700,2.5e-3],[701,1.3e-2],[702,7.5e-3],[703,9e-3],[704,1.6e-2],[705,5.5e-3],[706,1.1e-2],[707,8e-3],[708,1.45e-2],[709,2e-2],[710,7e-3],[711,1.2e-2],[712,9.5e-3],[713,4.5e-3],[714,1.5e-2],[715,1.05e-2],[716,1.8e-2],[717,8e-3],[718,1.3e-2],[719,6e-3],[720,1.1e-2],[721,1.6e-2],[722,2.2e-2],[723,9e-3],[724,1.35e-2],[725,9e-4],[726,1.2e-2],[727,1.9e-2],[728,8.5e-3],[729,1.45e-2],[730,1.1e-2],[731,2.4e-2],[732,1.6e-2],[733,7e-3],[734,1.3e-2],[735,1.8e-2],[736,1e-2],[737,1.5e-2],[738,2.1e-2],[739,1.2e-2],[740,2.8e-2],[741,9e-3],[742,1.7e-2],[743,1.3e-2],[744,2e-2],[745,1.1e-2],[746,1.5e-2],[747,2.5e-2],[748,1.35e-2],[749,1.9e-2],[750,5.6e-4],[751,1.2e-2],[752,2.2e-2],[753,1.6e-2],[754,3e-2],[755,1.3e-2],[756,1.8e-2],[757,8e-3],[758,2.4e-2],[759,1.5e-2],[760,2e-2],[761,1.1e-2],[762,2.7e-2],[763,1.7e-2],[764,1.3e-2],[765,2.3e-2],[766,3.3e-2],[767,1.6e-2],[768,2e-2],[769,1.5e-3],[770,1.2e-2],[771,2.6e-2],[772,1.8e-2],[773,3.6e-2],[774,1.4e-2],[775,2.2e-2],[776,1.7e-2],[777,2.9e-2],[778,1e-2],[779,2e-2],[780,2.5e-2],[781,1.5e-2],[782,2.5e-3],[783,3.2e-2],[784,1.9e-2],[785,2.3e-2],[786,4e-2],[787,1.6e-2],[788,2.7e-2],[789,2.1e-2],[790,3.4e-2],[791,1.3e-2],[792,2.4e-2],[793,2.9e-2],[794,1.8e-2],[795,4.4e-2],[796,2.2e-2],[797,3e-2],[798,1.5e-2],[799,2.6e-2],[800,3.7e-2],[801,2e-2],[802,2.8e-2],[803,4.8e-2],[804,1.7e-2],[805,3.2e-2],[806,2.4e-2],[807,3.9e-2],[808,1.4e-2],[809,2.9e-2],[810,5.2e-2],[811,2.2e-2],[812,3.4e-2],[813,4e-4],[814,2.6e-2],[815,4.2e-2],[816,1.9e-2],[817,3.1e-2],[818,5.6e-2],[819,2.4e-2],[820,3.6e-2],[821,2.8e-2],[822,4.5e-2],[823,1.6e-2],[824,3.3e-2],[825,6e-2],[826,2.6e-2],[827,3.9e-2],[828,4.8e-2],[829,2.2e-2],[830,3.5e-2],[831,6.5e-2],[832,8e-5],[833,2.9e-2],[834,4.2e-2],[835,5.2e-2],[836,2.4e-2],[837,3.7e-2],[838,7e-2],[839,3.1e-2],[840,4.5e-2],[841,2e-2],[842,5.6e-2],[843,3.4e-2],[844,8e-2],[845,4e-2],[846,2.7e-2],[847,6e-2],[848,4.8e-2],[849,9e-2],[850,3.6e-2],[851,6.6e-2],[852,1e-1],[853,4.4e-2],[854,7.5e-2],[855,1.3e-1],[856,5.5e-2],[857,1.7e-3],[857,2e-1],[858,9e-2],[859,1.2e-1]
];
const dRed = [
[350.6,1e-3],[352.3,6.2e-4],[353.9,1.45e-3],[355.6,8.3e-4],[357.2,1.9e-3],[358.8,7.1e-4],
[360.6,1.17e-3],[362.3,5.5e-4],[363.9,1.32e-3],[365.6,9.4e-4],[367.2,1.95e-3],[368.8,7.8e-4],
[370.6,1.05e-3],[372.3,4.8e-4],[373.9,1.61e-3],[375.6,8.7e-4],[377.2,1.24e-3],[378.8,6.7e-4],
[380.6,1.52e-3],[382.3,9.9e-4],[383.9,5.9e-4],[385.6,1.83e-3],[387.2,7.4e-4],[388.8,1.12e-3],
[390.6,9e-4],[392.3,1.38e-3],[393.9,5.2e-4],[395.6,1.08e-3],[397.2,1.71e-3],[398.8,8.1e-4],
[400.6,4.2e-4],[402.3,1.27e-3],[403.9,9.6e-4],[405.6,1.98e-3],[407.2,6.9e-4],[408.8,1.15e-3],
[410.6,5.8e-4],[412.3,1e-3],[413.9,6.2e-4],[415.6,1.45e-3],[417.2,8.3e-4],[418.8,1.9e-3],
[420.6,7.1e-4],[422.3,1.17e-3],[423.9,5.5e-4],[425.6,1.32e-3],[427.2,9.4e-4],[428.8,1.85e-3],
[430.6,7.8e-4],[432.3,1.05e-3],[433.9,4.8e-4],[435.6,1.61e-3],[437.2,8.7e-4],[438.8,1.24e-3],
[440.6,6.7e-4],[442.3,1.52e-3],[443.9,9.9e-4],[445.6,5.9e-4],[447.2,1.83e-3],[448.8,7.4e-4],
[450.6,1.12e-3],[452.3,9e-4],[453.9,1.38e-3],[455.6,5.2e-4],[457.2,1.08e-3],[458.8,1.71e-3],
[460.6,8.1e-4],[462.3,4.2e-4],[463.9,1.27e-3],[465.6,9.6e-4],[467.2,1.9e-3],[468.8,6.9e-4],
[351,3e-4],[356,1.8e-4],[358,4e-5],[362,2.5e-4],[366,1.2e-4],[369,3e-5],[373,3.5e-4],[378,1.5e-4],[381,3e-5],[384,4e-3],[386,2.8e-4],[390,6e-3],[393,1e-4],[398,2.2e-4],[402,6e-5],[405,3.2e-4],[409,3e-5],[413,1.4e-4],[417,2.6e-4],[421,7e-5],[426,3.8e-4],[430,1.8e-4],[435,1.1e-4],[441,3e-4],[447,8e-5],[452,2e-4],[458,4e-4],[463,1.3e-4],[467,3e-4],
[474,1.2e-3],[478,1.35e-3],[482,1.5e-3],[486,1.7e-3],[490,2e-3],[494,2.4e-3],[498,2.8e-3],[502,3.2e-3],[506,3.6e-3],[510,4.1e-3],[514,4.8e-3],[518,5.6e-3],[522,7e-3],[526,8.5e-3],[530,1e-2],[534,1.25e-2],[538,1.5e-2],[542,1.8e-2],[546,2.2e-2],[550,2.6e-2],[554,3e-2],[558,3.4e-2],[562,3.9e-2],[566,4.4e-2],[570,5e-2],[574,5.6e-2],[578,6.3e-2],[582,7.1e-2],[586,8e-2],[590,8.7e-2],[595,9.6e-2],[600,1.05e-1],[605,1.15e-1],[610,1.25e-1],[615,1.35e-1],[620,1.45e-1],[625,1.55e-1],[630,1.65e-1],[635,1.76e-1],[640,1.88e-1],[645,2e-1],[650,2.12e-1],[655,2.25e-1],[660,2.4e-1],[665,2.55e-1],[670,2.72e-1],[675,2.9e-1],[680,3.08e-1],[685,3.26e-1],[690,3.45e-1],[695,3.65e-1],[700,3.85e-1],[705,4.05e-1],[710,4.25e-1],[715,4.45e-1],[720,4.65e-1],[725,4.8e-1],[730,4.95e-1],[735,5.05e-1],[740,5.15e-1],[744,5.2e-1],[748,5e-1],[752,4.8e-1],[756,4.6e-1],[760,4.45e-1],[765,4.2e-1],[770,3.9e-1],[775,3.65e-1],[780,3.45e-1],[785,3.25e-1],[790,3.05e-1],[795,2.88e-1],[800,2.72e-1],[805,2.56e-1],[810,2.42e-1],[815,2.28e-1],[820,2.15e-1],[825,2.02e-1],[830,1.9e-1],[835,1.78e-1],[840,1.66e-1],[845,1.55e-1],[850,1.44e-1],[855,1.34e-1],[858,1.28e-1]
];
const dBlue = [
[860,0.253],[865,0.24],[870,0.23],[876,0.22],[882,0.21],[888,0.198],[895,0.186],[901,0.18],[908,0.175],[914,0.168],[920,0.16],[926,0.156],[932,0.15],[939,0.146],[945,0.144],[951,0.141],[958,0.14],[964,0.137],[970,0.135],[977,0.133],[983,0.131],[990,0.13],[996,0.129],[1002,0.127],[1008,0.125],[1014,0.124],[1021,0.123],[1027,0.125],[1033,0.124],[1040,0.127],[1046,0.126],[1052,0.129],[1058,0.13],[1065,0.131],[1071,0.133],[1077,0.134],[1084,0.133],[1090,0.135],[1096,0.136],[1103,0.135],[1109,0.137],[1115,0.138],[1122,0.136],[1128,0.139],[1134,0.138],[1141,0.136],[1144,0.122],[1147,0.14],[1153,0.141],[1160,0.146],[1166,0.152],[1172,0.158],[1178,0.165],[1185,0.172],[1191,0.18],[1197,0.188],[1204,0.198],[1210,0.212],[1216,0.23],[1222,0.255],[1229,0.286],[1235,0.322],[1241,0.366],[1247,0.42],[1254,0.48],[1260,0.545],[1267,0.616],[1273,0.69],[1279,0.76],[1285,0.85],[1292,0.946],[1298,1.02],[1305,1.1],[1311,1.18],[1317,1.25],[1323,1.31],[1330,1.35],[1336,1.38],[1342,1.39],[1348,1.385],[1355,1.37],[1361,1.36],[1367,1.35],[1374,1.33],[1380,1.31],[1386,1.28],[1393,1.25],[1399,1.21],[1405,1.17],[1411,1.12],[1418,1.07],[1424,1.02],[1430,0.98],[1437,0.935],[1443,0.89],[1449,0.85],[1456,0.81],[1462,0.785],[1468,0.76],[1475,0.74],[1481,0.72],[1487,0.71],[1494,0.7],[1500,0.695],[1506,0.7],[1512,0.703],[1519,0.705],[1525,0.71],[1531,0.72],[1537,0.725],[1544,0.74],[1550,0.745],[1557,0.75],[1563,0.755],[1569,0.76],[1575,0.77],[1582,0.775],[1588,0.78],[1594,0.787],[1600,0.8]
];

// ---- layout ----
const FONT = "'Liberation Sans', Arial, sans-serif";
const AXIS = "#222";
const BLUE_AXIS = "#3737e4";

const panels = [
  { title: titles[0], letter: letters[0], black: aBlack, red: aRed, blue: aBlue, xMax: 1600,
    yLeft: [1e-6, 10], yRight: [0.0387, 2.12], left: 113, right: 516, top: 52, bottom: 377 },
  { title: titles[1], letter: letters[1], black: bBlack, red: bRed, blue: bBlue, xMax: 1700,
    yLeft: [1e-5, 2.04], yRight: [0.06, 5], left: 667, right: 1069, top: 52, bottom: 377 },
  { title: titles[2], letter: letters[2], black: cBlack, red: cRed, blue: cBlue, xMax: 1700,
    yLeft: [1e-5, 5], yRight: [0.1, 10], left: 113, right: 515, top: 487, bottom: 811 },
  { title: titles[3], letter: letters[3], black: dBlack, red: dRed, blue: dBlue, xMax: 1700,
    yLeft: [1e-5, 10], yRight: [0.1, 2.02], left: 667, right: 1069, top: 487, bottom: 811 }
];

const svg = d3.select("svg");
svg.append("rect").attr("width", 1132).attr("height", 866).attr("fill", "#fff");

function logTicks(domain) {
  const lo = Math.floor(Math.log10(domain[0])), hi = Math.ceil(Math.log10(domain[1]));
  const major = [], minor = [];
  for (let n = lo; n <= hi; n++) {
    for (let k = 1; k < 10; k++) {
      const v = k * Math.pow(10, n);
      if (v < domain[0] * 0.999 || v > domain[1] * 1.001) continue;
      (k === 1 ? major : minor).push(v);
    }
  }
  return { major, minor };
}

function powerLabels(g) {
  g.selectAll(".tick text").each(function (d) {
    const t = d3.select(this).text(null);
    t.append("tspan").text("10");
    t.append("tspan").attr("dy", "-0.6em").attr("font-size", "0.66em")
      .text(Math.round(Math.log10(d)));
  });
}

function styleAxis(g, color) {
  g.attr("font-family", FONT).attr("font-size", 12.5);
  g.select(".domain").attr("stroke", color).attr("stroke-width", 1.3);
  g.selectAll(".tick line").attr("stroke", color).attr("stroke-width", 1.1);
  g.selectAll(".tick text").attr("fill", color);
}

function dots(g, data, x, y, color, s) {
  g.append("g").selectAll("rect").data(data).join("rect")
    .attr("x", d => x(d[0]) - s / 2)
    .attr("y", d => y(d[1]) - s / 2)
    .attr("width", s).attr("height", s)
    .attr("fill", color);
}

function drawPanel(p) {
  const g = svg.append("g");
  const x = d3.scaleLinear().domain([300, p.xMax]).range([p.left, p.right]);
  const yL = d3.scaleLog().domain(p.yLeft).range([p.bottom, p.top]);
  const yR = d3.scaleLog().domain(p.yRight).range([p.bottom, p.top]);
  const xMinor = d3.range(300, p.xMax + 1, 100).filter(v => !xTicks.includes(v));
  const tL = logTicks(p.yLeft), tR = logTicks(p.yRight);

  // points
  dots(g, p.black, x, yL, "#000", 2.7);
  dots(g, p.red, x, yL, "#ff0000", 2.7);
  dots(g, p.blue, x, yR, "#0000ff", 2.6);

  // bottom axis
  g.append("g").attr("transform", `translate(0,${p.bottom})`)
    .call(d3.axisBottom(x).tickValues(xMinor).tickSize(3).tickSizeOuter(0).tickFormat(""))
    .call(s => styleAxis(s, AXIS));
  g.append("g").attr("transform", `translate(0,${p.bottom})`)
    .call(d3.axisBottom(x).tickValues(xTicks).tickSize(5).tickSizeOuter(0).tickPadding(6).tickFormat(d3.format("d")))
    .call(s => styleAxis(s, "#333"));
  // top axis, ticks inward
  g.append("g").attr("transform", `translate(0,${p.top})`)
    .call(d3.axisTop(x).tickValues(xMinor).tickSize(-3).tickSizeOuter(0).tickFormat(""))
    .call(s => styleAxis(s, AXIS));
  g.append("g").attr("transform", `translate(0,${p.top})`)
    .call(d3.axisTop(x).tickValues(xTicks).tickSize(-5).tickSizeOuter(0).tickFormat(""))
    .call(s => styleAxis(s, AXIS));

  // left log axis
  g.append("g").attr("transform", `translate(${p.left},0)`)
    .call(d3.axisLeft(yL).tickValues(tL.minor).tickSize(3).tickSizeOuter(0).tickFormat(""))
    .call(s => styleAxis(s, AXIS));
  g.append("g").attr("transform", `translate(${p.left},0)`)
    .call(d3.axisLeft(yL).tickValues(tL.major).tickSize(5).tickSizeOuter(0).tickPadding(4))
    .call(powerLabels)
    .call(s => styleAxis(s, "#333"));

  // right log axis (blue)
  g.append("g").attr("transform", `translate(${p.right},0)`)
    .call(d3.axisRight(yR).tickValues(tR.minor).tickSize(3).tickSizeOuter(0).tickFormat(""))
    .call(s => styleAxis(s, BLUE_AXIS));
  g.append("g").attr("transform", `translate(${p.right},0)`)
    .call(d3.axisRight(yR).tickValues(tR.major).tickSize(6).tickSizeOuter(0).tickPadding(4))
    .call(powerLabels)
    .call(s => styleAxis(s, BLUE_AXIS));

  const cx = (p.left + p.right) / 2, cy = (p.top + p.bottom) / 2;
  g.append("text").attr("x", cx).attr("y", p.top - 14).attr("text-anchor", "middle")
    .attr("font-family", FONT).attr("font-size", 14).attr("fill", "#333").text(p.title);
  g.append("text").attr("x", cx).attr("y", p.bottom + 46).attr("text-anchor", "middle")
    .attr("font-family", FONT).attr("font-size", 15).attr("fill", "#333").text("Wavelength (nm)");
  g.append("text").attr("transform", `translate(${p.left - 38},${cy}) rotate(-90)`)
    .attr("text-anchor", "middle").attr("font-family", FONT).attr("font-size", 15)
    .attr("fill", "#333").text("Intensity (a.u.)");
  g.append("text").attr("transform", `translate(${p.right + 52},${cy}) rotate(-90)`)
    .attr("text-anchor", "middle").attr("font-family", FONT).attr("font-size", 15)
    .attr("fill", BLUE_AXIS).text("Intensity (a.u.)");
  g.append("text").attr("x", p.left + 13).attr("y", p.top + 39)
    .attr("font-family", "'Open Sans', sans-serif").attr("font-size", 28).attr("fill", "#111")
    .text(p.letter);
}

panels.forEach(drawPanel);
</script>
</body>
</html>
